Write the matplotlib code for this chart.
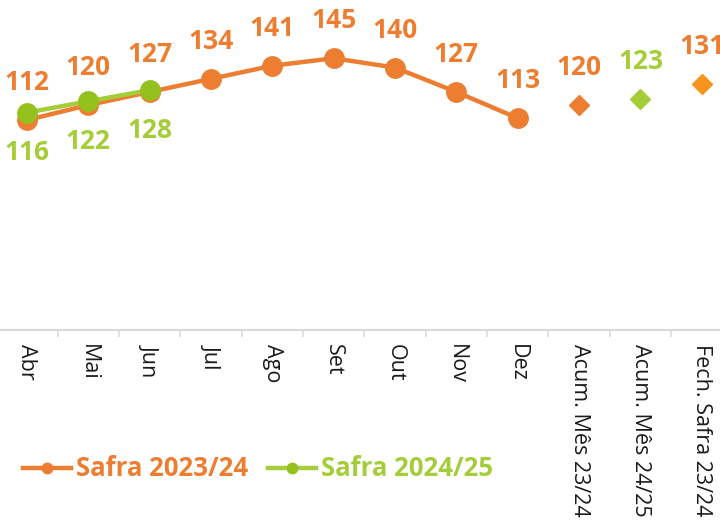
import matplotlib
matplotlib.use("Agg")
import matplotlib.pyplot as plt
from matplotlib.lines import Line2D

categories = ["Abr", "Mai", "Jun", "Jul", "Ago", "Set", "Out", "Nov", "Dez",
              "Acum. Mês 23/24", "Acum. Mês 24/25", "Fech. Safra 23/24"]
safra_2324 = [112, 120, 127, 134, 141, 145, 140, 127, 113]
safra_2425 = [116, 122, 128]
summary_values = [120, 123, 131]
summary_colors = ["#ED7D31", "#A5CD39", "#F7941D"]
summary_label_colors = ["#ED7D31", "#A5CD39", "#ED7D31"]

ORANGE = "#ED7D31"
GREEN_LINE = "#A5CD39"
GREEN_PT = "#95C11F"
AXIS = "#D9D9D9"
FONT = "Open Sans"

fig = plt.figure(figsize=(7.2, 5.21), dpi=100)
W, H = 720, 521
left_px = -3.7
width_px = 736.2
bottom_px = 330
top_px = 2
ax = fig.add_axes([left_px / W, (H - bottom_px) / H, width_px / W, (bottom_px - top_px) / H])
ax.set_xlim(-0.5, len(categories) - 0.5)
ax.set_ylim(0, 175)

x1 = list(range(len(safra_2324)))
x2 = list(range(len(safra_2425)))
ax.plot(x1, safra_2324, color=ORANGE, lw=3.2, marker="o", ms=14, zorder=3,
        solid_capstyle="round")
ax.plot(x2, safra_2425, color=GREEN_LINE, lw=3.2, marker="o", ms=14,
        markerfacecolor=GREEN_PT, markeredgecolor=GREEN_PT, zorder=4,
        solid_capstyle="round")

for i, v in enumerate(safra_2324):
    ax.annotate(str(v), (i, v), xytext=(0, 27), textcoords="offset points",
                ha="center", va="center", color=ORANGE, fontsize=19,
                fontweight="bold", family=FONT, zorder=5)
for i, v in enumerate(safra_2425):
    ax.annotate(str(v), (i, v), xytext=(0, -29), textcoords="offset points",
                ha="center", va="center", color=GREEN_LINE, fontsize=19,
                fontweight="bold", family=FONT, zorder=5)

xs = list(range(len(safra_2324), len(categories)))
for x, v, c, lc in zip(xs, summary_values, summary_colors, summary_label_colors):
    ax.plot([x], [v], marker="D", ms=10.5, color=c, linestyle="none", zorder=3)
    ax.annotate(str(v), (x, v), xytext=(0, 27), textcoords="offset points",
                ha="center", va="center", color=lc, fontsize=19,
                fontweight="bold", family=FONT, zorder=5)

for s in ["left", "right", "top"]:
    ax.spines[s].set_visible(False)
ax.spines["bottom"].set_color(AXIS)
ax.spines["bottom"].set_linewidth(1.5)
ax.set_yticks([])

ax.set_xticks([i + 0.5 for i in range(len(categories))])
ax.set_xticklabels([])
ax.tick_params(axis="x", which="major", length=5, width=1.2, color=AXIS)
ax.set_xticks(range(len(categories)), minor=True)
ax.set_xticklabels(categories, minor=True, rotation=-90, ha="center", va="top",
                   fontsize=15.5, family=FONT, color="#1a1a1a")
ax.tick_params(axis="x", which="minor", length=0, pad=10)

handles = [
    Line2D([0], [0], color=ORANGE, lw=3.2, marker="o", ms=7.5),
    Line2D([0], [0], color=GREEN_LINE, lw=3.2, marker="o", ms=7.5,
           markerfacecolor=GREEN_PT, markeredgecolor=GREEN_PT),
]
leg = fig.legend(handles, ["Safra 2023/24", "Safra 2024/25"], loc="center left",
                 bbox_to_anchor=(23 / W, (H - 469) / H), ncol=2, frameon=False,
                 borderpad=0, borderaxespad=0,
                 handlelength=1.85, handletextpad=0.2, columnspacing=0.8,
                 prop={"family": FONT, "weight": "bold", "size": 18.5})
for t, c in zip(leg.get_texts(), [ORANGE, GREEN_LINE]):
    t.set_color(c)

fig.savefig("out.png", dpi=100)
